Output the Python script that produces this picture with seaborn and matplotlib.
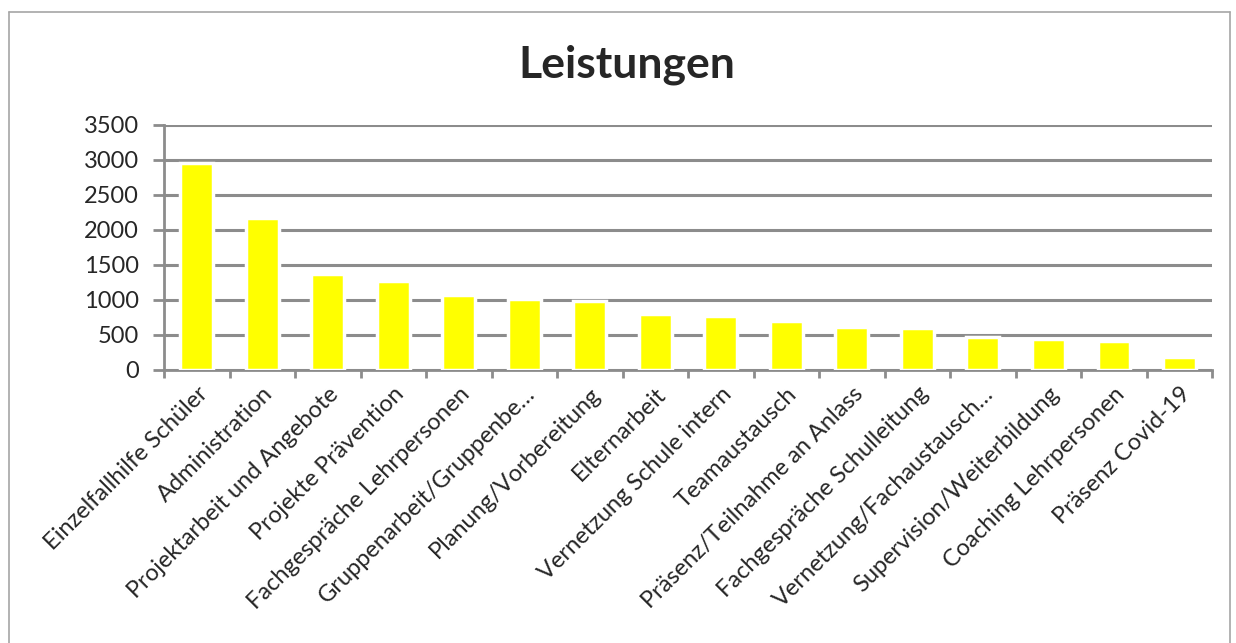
import numpy as np
import pandas as pd
import matplotlib
matplotlib.use("Agg")
import matplotlib.pyplot as plt
import seaborn as sns
from matplotlib.lines import Line2D

categories = [
    "Einzelfallhilfe Schüler", "Administration", "Projektarbeit und Angebote",
    "Projekte Prävention", "Fachgespräche Lehrpersonen", "Gruppenarbeit/Gruppenbe…",
    "Planung/Vorbereitung", "Elternarbeit", "Vernetzung Schule intern",
    "Teamaustausch", "Präsenz/Teilnahme an Anlass", "Fachgespräche Schulleitung",
    "Vernetzung/Fachaustausch…", "Supervision/Weiterbildung",
    "Coaching Lehrpersonen", "Präsenz Covid-19",
]
values = [2950, 2175, 1365, 1270, 1070, 1015, 990, 805, 765, 700,
          610, 595, 470, 440, 415, 185]
y_ticks = [0, 500, 1000, 1500, 2000, 2500, 3000, 3500]

df = pd.DataFrame({"Leistung": categories, "Wert": values})

sns.set_style("white")
plt.rcParams["font.family"] = ["Lato", "DejaVu Sans"]

fig = plt.figure(figsize=(12.36, 6.43), dpi=100)
ax = fig.add_axes([0.1327, 0.4246, 0.848, 0.381])

sns.barplot(data=df, x="Leistung", y="Wert", color="#FFFF00", width=0.5,
            edgecolor="white", linewidth=2.5, saturation=1, ax=ax, zorder=3)

ax.set_ylim(0, 3500)
ax.set_yticks(y_ticks)
ax.set_xlim(-0.5, len(categories) - 0.5)
ax.yaxis.grid(True, color="#8c8c8c", linewidth=2.2, zorder=0)
ax.set_axisbelow(True)
for s in ["top", "right"]:
    ax.spines[s].set_visible(False)
for s in ["left", "bottom"]:
    ax.spines[s].set_color("#8c8c8c")
    ax.spines[s].set_linewidth(2)

ax.set_xlabel("")
ax.set_ylabel("")
ax.tick_params(axis="y", labelsize=17, left=True, length=8, color="#8c8c8c",
               width=2, pad=10)
ax.set_xticks(np.arange(-0.5, len(categories), 1.0), minor=True)
ax.tick_params(axis="x", which="minor", bottom=True, length=6,
               color="#8c8c8c", width=2)
ax.tick_params(axis="x", which="major", bottom=False, labelsize=17, pad=6)
plt.setp(ax.get_xticklabels(), rotation=45, ha="right", rotation_mode="anchor")

fig.text(0.507, 0.8787, "Leistungen", ha="center", va="baseline",
         fontsize=32, fontweight="bold")

# chart area border (left, top, right)
border = dict(transform=fig.transFigure, color="#a6a6a6", linewidth=1.2)
fig.add_artist(Line2D([0.0075, 0.0075], [0.0, 0.982], **border))
fig.add_artist(Line2D([0.0075, 0.9955], [0.982, 0.982], **border))
fig.add_artist(Line2D([0.9955, 0.9955], [0.0, 0.982], **border))

fig.savefig("out.png", dpi=100)
